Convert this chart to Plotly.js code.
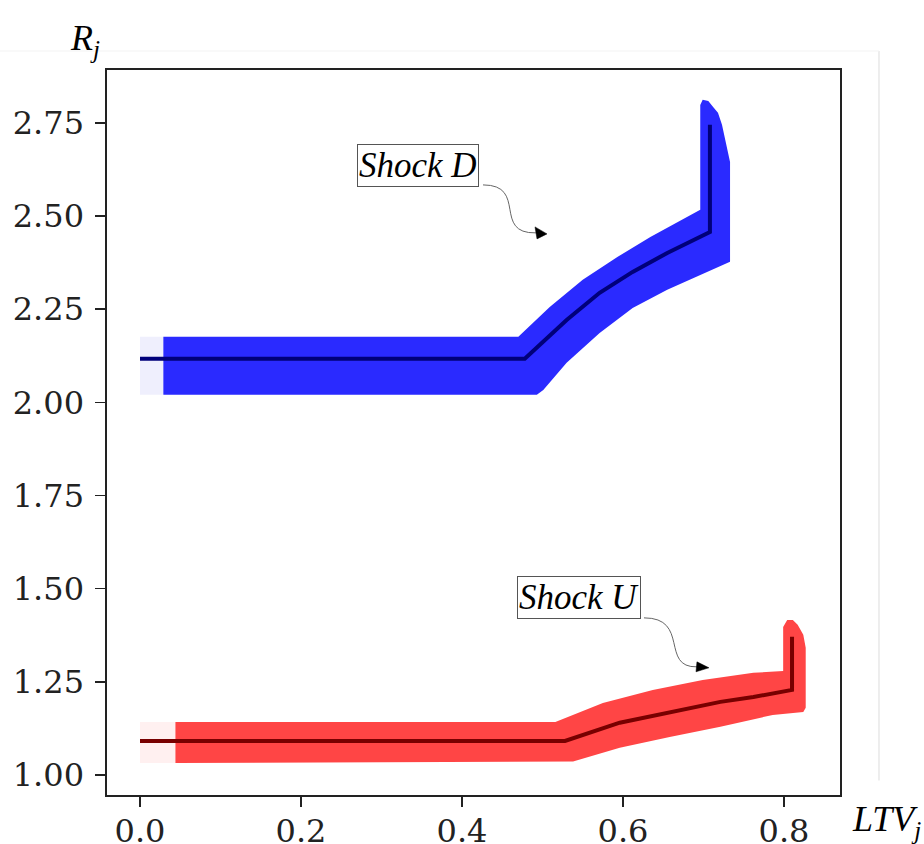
<!DOCTYPE html>
<html>
<head>
<meta charset="utf-8">
<script src="https://cdn.plot.ly/plotly-3.0.1.min.js"></script>
<style>
  html, body { margin: 0; padding: 0; background: #ffffff; }
  #chart { width: 924px; height: 844px; }
</style>
</head>
<body>
<div id="chart"></div>
<script>
// Axis ticks
const ltvTicks = [0.0, 0.2, 0.4, 0.6, 0.8];
const ltvTickText = ['0.0', '0.2', '0.4', '0.6', '0.8'];
const rTicks = [1.00, 1.25, 1.50, 1.75, 2.00, 2.25, 2.50, 2.75];
const rTickText = ['1.00', '1.25', '1.50', '1.75', '2.00', '2.25', '2.50', '2.75'];

// Shock D: central path and the envelope around it
const shockDCenterX = [0.000, 0.478, 0.530, 0.571, 0.612, 0.655, 0.708, 0.708];
const shockDCenterY = [2.117, 2.117, 2.221, 2.294, 2.350, 2.401, 2.457, 2.745];
const shockDUpperX = [0.029, 0.470, 0.509, 0.550, 0.593, 0.634, 0.696, 0.696, 0.699, 0.706, 0.712, 0.718, 0.723, 0.728, 0.733, 0.733];
const shockDUpperY = [2.176, 2.176, 2.256, 2.329, 2.390, 2.444, 2.517, 2.798, 2.812, 2.809, 2.793, 2.777, 2.745, 2.691, 2.645, 2.377];
const shockDLowerX = [0.696, 0.655, 0.612, 0.571, 0.530, 0.501, 0.493, 0.029];
const shockDLowerY = [2.342, 2.302, 2.253, 2.186, 2.106, 2.033, 2.020, 2.020];
const shockDLeadX = [0.000, 0.029];

// Shock U: central path and the envelope around it
const shockUCenterX = [0.000, 0.528, 0.596, 0.658, 0.721, 0.762, 0.810, 0.810];
const shockUCenterY = [1.091, 1.091, 1.140, 1.169, 1.196, 1.209, 1.228, 1.371];
const shockUUpperX = [0.044, 0.516, 0.575, 0.637, 0.699, 0.762, 0.799, 0.799, 0.804, 0.811, 0.817, 0.824, 0.827, 0.827, 0.824];
const shockUUpperY = [1.142, 1.142, 1.193, 1.228, 1.255, 1.274, 1.279, 1.397, 1.416, 1.416, 1.403, 1.376, 1.341, 1.180, 1.169];
const shockULowerX = [0.786, 0.721, 0.658, 0.596, 0.538, 0.044];
const shockULowerY = [1.161, 1.129, 1.102, 1.073, 1.036, 1.032];
const shockULeadX = [0.000, 0.044];

function envelope(ux, uy, lx, ly) {
  return { x: ux.concat(lx, [ux[0]]), y: uy.concat(ly, [uy[0]]) };
}

function leadBlock(leadX, yLow, yHigh) {
  return {
    x: [leadX[0], leadX[1], leadX[1], leadX[0], leadX[0]],
    y: [yLow, yLow, yHigh, yHigh, yLow]
  };
}

function fillTrace(poly, color) {
  return {
    type: 'scatter', mode: 'lines', x: poly.x, y: poly.y,
    fill: 'toself', fillcolor: color, line: { width: 0, color: color },
    hoverinfo: 'skip', showlegend: false
  };
}

function lineTrace(x, y, color) {
  return {
    type: 'scatter', mode: 'lines', x: x, y: y,
    line: { color: color, width: 4 },
    hoverinfo: 'skip', showlegend: false
  };
}

const dEnv = envelope(shockDUpperX, shockDUpperY, shockDLowerX, shockDLowerY);
const uEnv = envelope(shockUUpperX, shockUUpperY, shockULowerX, shockULowerY);
const dLead = leadBlock(shockDLeadX, shockDLowerY[shockDLowerY.length - 1], shockDUpperY[0]);
const uLead = leadBlock(shockULeadX, shockULowerY[shockULowerY.length - 1], shockUUpperY[0]);

const traces = [
  fillTrace(dLead, '#efeffd'),
  fillTrace(dEnv, '#2a2aff'),
  lineTrace(shockDCenterX, shockDCenterY, '#00007a'),
  fillTrace(uLead, '#fff0f0'),
  fillTrace(uEnv, '#ff4545'),
  lineTrace(shockUCenterX, shockUCenterY, '#780000')
];

const tickFont = { family: 'DejaVu Serif, serif', size: 32, color: '#222222' };
const labelFont = { family: 'Liberation Serif, serif', size: 35, color: '#000000' };
const titleFont = { family: 'Liberation Serif, serif', size: 36, color: '#000000' };

const axisCommon = {
  showgrid: false, zeroline: false,
  showline: true, mirror: true, linecolor: '#222222', linewidth: 1.6,
  ticks: 'outside', ticklen: 10, tickwidth: 1.6, tickcolor: '#222222',
  tickfont: tickFont
};

const layout = {
  width: 924, height: 844, autosize: false,
  margin: { l: 107, r: 84, t: 70, b: 49 },
  paper_bgcolor: '#ffffff', plot_bgcolor: '#ffffff',
  showlegend: false,
  xaxis: Object.assign({}, axisCommon, {
    range: [-0.041, 0.8696], tickmode: 'array', tickvals: ltvTicks, ticktext: ltvTickText,
    ticklabelstandoff: -3
  }),
  yaxis: Object.assign({}, axisCommon, {
    range: [0.946, 2.892], tickmode: 'array', tickvals: rTicks, ticktext: rTickText,
    ticklabelstandoff: 5
  }),
  annotations: [
    { xref: 'x', yref: 'y', x: 0.3453, y: 2.637, text: '<i>Shock D</i>', showarrow: false,
      xanchor: 'center', yanchor: 'middle',
      font: labelFont, bgcolor: '#ffffff', bordercolor: '#555555', borderwidth: 1, borderpad: 1 },
    { xref: 'x', yref: 'y', x: 0.5453, y: 1.4752, text: '<i>Shock U</i>', showarrow: false,
      xanchor: 'center', yanchor: 'middle',
      font: labelFont, bgcolor: '#ffffff', bordercolor: '#555555', borderwidth: 1, borderpad: 1 },
    { xref: 'paper', yref: 'paper', x: -0.030, y: 1.040, text: '<i>R<sub>j</sub></i>', showarrow: false,
      xanchor: 'center', yanchor: 'middle', font: titleFont },
    { xref: 'paper', yref: 'paper', x: 1.0628, y: -0.036, text: '<i>LTV<sub>j</sub></i>', showarrow: false,
      xanchor: 'center', yanchor: 'middle', font: titleFont }
  ],
  shapes: [
    // curved connectors from the label boxes
    { type: 'path', xref: 'x', yref: 'y',
      path: 'M 0.4261 2.5836 C 0.4820 2.5836 0.4373 2.4521 0.4919 2.4548',
      line: { color: '#666666', width: 1 } },
    { type: 'path', xref: 'x', yref: 'y',
      path: 'M 0.4907 2.4709 L 0.5056 2.4521 L 0.4932 2.4387 Z',
      fillcolor: '#000000', line: { color: '#000000', width: 0.5 } },
    { type: 'path', xref: 'x', yref: 'y',
      path: 'M 0.6261 1.4215 C 0.6832 1.4215 0.6460 1.2874 0.6919 1.2900',
      line: { color: '#666666', width: 1 } },
    { type: 'path', xref: 'x', yref: 'y',
      path: 'M 0.6919 1.3034 L 0.7068 1.2874 L 0.6907 1.2767 Z',
      fillcolor: '#000000', line: { color: '#000000', width: 0.5 } },
    // faint outer frame lines
    { type: 'line', xref: 'paper', yref: 'paper', x0: 1.0532, x1: 1.0532, y0: 1.0262, y1: 0.02,
      line: { color: '#dddddd', width: 1 } },
    { type: 'line', xref: 'paper', yref: 'paper', x0: -0.146, x1: 1.0532, y0: 1.0262, y1: 1.0262,
      line: { color: '#f3f3f3', width: 1 } }
  ]
};

Plotly.newPlot('chart', traces, layout, { staticPlot: true, displayModeBar: false });
</script>
</body>
</html>
